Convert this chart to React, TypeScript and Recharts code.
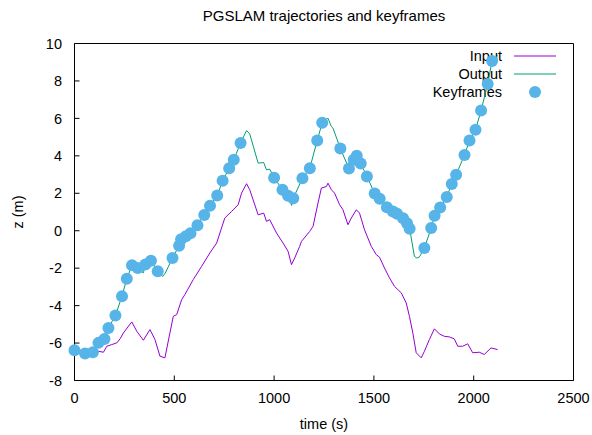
import { ComposedChart, Line, Scatter, XAxis, YAxis, Legend } from 'recharts'

// time (s), z (m)
const inputTrack: [number, number][] = [
  [0, -6.5], [40, -6.6], [70, -6.75], [95, -6.6], [120, -6.44], [145, -6.49], [162, -6.17],
  [187, -6.08], [212, -5.99], [228, -5.78], [245, -5.46], [287, -4.87], [312, -5.37],
  [345, -5.85], [378, -5.28], [403, -5.81], [428, -6.7], [453, -6.79], [478, -5.46],
  [495, -4.57], [512, -4.48], [537, -3.68], [553, -3.41], [595, -2.61], [637, -1.9],
  [678, -1.19], [712, -0.66], [753, 0.68], [787, 1.03], [820, 1.39], [837, 2.01],
  [862, 2.51], [878, 2.19], [920, 0.85], [948, 0.94], [962, 0.5], [978, 0.59],
  [1012, -0.12], [1045, -0.66], [1070, -1.1], [1087, -1.81], [1103, -1.46], [1128, -0.84],
  [1137, -0.57], [1178, -0.04], [1195, 0.23], [1220, 1.48], [1237, 2.28], [1262, 2.36],
  [1270, 2.54], [1287, 2.19], [1303, 2.01], [1328, 1.39], [1345, 1.12], [1370, 0.32],
  [1387, 0.68], [1412, 1.12], [1428, 0.94], [1453, 0.05], [1487, -0.84], [1512, -1.28],
  [1528, -1.41], [1553, -1.99], [1578, -2.52], [1603, -2.97], [1637, -3.32], [1662, -3.86],
  [1678, -4.57], [1695, -5.46], [1712, -6.52], [1737, -6.79], [1753, -6.44], [1778, -5.81],
  [1803, -5.24], [1828, -5.51], [1853, -5.64], [1878, -5.67], [1903, -5.78], [1920, -6.17],
  [1945, -6.17], [1970, -6.04], [1995, -6.52], [2028, -6.49], [2053, -6.61], [2087, -6.26],
  [2120, -6.35],
]

const keyframes: [number, number][] = [
  [0, -6.38], [53, -6.56], [92, -6.49], [120, -5.99], [150, -5.78], [170, -5.19],
  [205, -4.53], [238, -3.5], [262, -2.56], [288, -1.85], [317, -1.99], [355, -1.81],
  [383, -1.6], [417, -2.17], [491, -1.46], [524, -0.8], [534, -0.46], [558, -0.3],
  [581, -0.14], [616, 0.29], [650, 0.84], [679, 1.34], [715, 1.88], [742, 2.67],
  [775, 3.34], [798, 3.79], [832, 4.68], [1000, 2.83], [1042, 2.19], [1070, 1.87],
  [1096, 1.74], [1142, 2.8], [1179, 3.34], [1216, 4.82], [1241, 5.77], [1332, 4.39],
  [1375, 3.32], [1399, 3.79], [1414, 4.0], [1434, 3.59], [1465, 2.9], [1504, 1.99],
  [1529, 1.71], [1565, 1.25], [1595, 1.03], [1616, 0.91], [1646, 0.67], [1666, 0.4],
  [1679, 0.11], [1753, -0.92], [1787, 0.14], [1804, 0.8], [1832, 1.24], [1865, 1.8],
  [1890, 2.5], [1912, 2.99], [1954, 4.05], [1979, 4.82], [2009, 5.39], [2037, 6.42],
  [2070, 7.84], [2092, 9.07],
]

// output samples visible between the keyframe dots
const outputExtra: [number, number][] = [
  [345, -2.25], [442, -2.44], [455, -2.26], [467, -1.99], [862, 5.35], [878, 5.17],
  [920, 3.61], [948, 3.64], [962, 3.25], [978, 3.29], [1088, 1.35], [1270, 6.01],
  [1287, 5.56], [1295, 5.48], [1703, -1.37], [1715, -1.46], [1728, -1.4], [2120, 9.35],
]

const xTicks = [0, 500, 1000, 1500, 2000, 2500]
const zTicks = [-8, -6, -4, -2, 0, 2, 4, 6, 8, 10]
const keyOrder = ['Input', 'Output', 'Keyframes']

const toRows = (pts: [number, number][]) => pts.map(([t, z]) => ({ t, z }))
const inputData = toRows(inputTrack)
const keyframeData = toRows(keyframes)
const outputData = toRows([...keyframes, ...outputExtra].sort((a, b) => a[0] - b[0]))

const FONT = '"Liberation Sans", Arial, sans-serif'
const FS = 14.5
const TICK = 5

const BottomTick = ({ x, y, payload }: any) => (
  <g>
    <line x1={x} x2={x} y1={y} y2={y - TICK} stroke="#000" />
    <text x={x} y={y + 22.5} textAnchor="middle" fontFamily={FONT} fontSize={FS} fill="#000">
      {payload.value}
    </text>
  </g>
)
const TopTick = ({ x, y }: any) => <line x1={x} x2={x} y1={y} y2={y + TICK} stroke="#000" />
const LeftTick = ({ x, y, payload }: any) => (
  <g>
    <line x1={x} x2={x + TICK} y1={y} y2={y} stroke="#000" />
    <text x={x - 12.5} y={y + 5.2} textAnchor="end" fontFamily={FONT} fontSize={FS} fill="#000">
      {payload.value}
    </text>
  </g>
)
const RightTick = ({ x, y }: any) => <line x1={x} x2={x - TICK} y1={y} y2={y} stroke="#000" />

const KeyLegend = ({ payload }: any) => {
  const items = (payload || [])
    .filter((e: any) => keyOrder.includes(e.value))
    .sort((a: any, b: any) => keyOrder.indexOf(a.value) - keyOrder.indexOf(b.value))
  return (
    <div style={{ fontFamily: FONT, fontSize: FS, color: '#000' }}>
      {items.map((e: any) => (
        <div key={e.value} style={{ display: 'flex', height: 18, alignItems: 'center' }}>
          <div style={{ width: 102, textAlign: 'right', lineHeight: '18px' }}>{e.value}</div>
          <svg width={56} height={18}>
            {e.type === 'circle' ? (
              <circle cx={33} cy={9} r={6} fill={e.color} />
            ) : (
              <line x1={12} x2={54} y1={9} y2={9} stroke={e.color} />
            )}
          </svg>
        </div>
      ))}
    </div>
  )
}

export default function App() {
  return (
    <div style={{ position: 'absolute', left: 0, top: 0, width: 592, height: 435 }}>
      <div
        style={{
          position: 'absolute', left: 74.5, width: 499, top: 7, textAlign: 'center',
          fontFamily: FONT, fontSize: 15, lineHeight: '18px', color: '#000',
        }}
      >
        PGSLAM trajectories and keyframes
      </div>
      <ComposedChart width={592} height={435} margin={{ top: 42.5, right: 17.5, bottom: 4.5, left: 0 }}>
        <XAxis
          dataKey="t" type="number" domain={[0, 2500]} ticks={xTicks} interval={0}
          height={50} tickSize={0} tickMargin={0} tickLine={false}
          axisLine={{ stroke: '#000' }} tick={<BottomTick />}
          label={{ value: 'time (s)', position: 'insideBottom', offset: 2, fontFamily: FONT, fontSize: FS, fill: '#000' }}
        />
        <XAxis
          xAxisId="top" orientation="top" dataKey="t" type="number" domain={[0, 2500]}
          ticks={xTicks} interval={0} height={1} tickSize={0} tickMargin={0} tickLine={false}
          axisLine={{ stroke: '#000' }} tick={<TopTick />}
        />
        <YAxis
          type="number" domain={[-8, 10]} ticks={zTicks} interval={0} width={74.5}
          tickSize={0} tickMargin={0} tickLine={false} axisLine={{ stroke: '#000' }} tick={<LeftTick />}
          label={{ value: 'z (m)', angle: -90, position: 'insideLeft', offset: 18, fontFamily: FONT, fontSize: FS, fill: '#000', style: { textAnchor: 'middle' } }}
        />
        <YAxis
          yAxisId="right" orientation="right" type="number" domain={[-8, 10]} ticks={zTicks}
          interval={0} width={1} tickSize={0} tickMargin={0} tickLine={false}
          axisLine={{ stroke: '#000' }} tick={<RightTick />}
        />
        <Legend
          layout="horizontal" verticalAlign="middle" align="center" content={<KeyLegend />}
          wrapperStyle={{ position: 'absolute', left: 400, top: 47, width: 170, height: 54, zIndex: -1 }}
        />
        <Line
          data={inputData} dataKey="z" name="Input" type="linear" stroke="#9400d3"
          strokeWidth={1} dot={false} legendType="line" isAnimationActive={false}
        />
        <Line
          data={outputData} dataKey="z" name="Output" type="linear" stroke="#009e73"
          strokeWidth={1} dot={false} legendType="line" isAnimationActive={false}
        />
        <Scatter
          data={keyframeData} dataKey="z" name="Keyframes" fill="#56b4e9" legendType="circle"
          isAnimationActive={false}
          shape={(p: any) => <circle cx={p.cx} cy={p.cy} r={6} fill="#56b4e9" />}
        />
      </ComposedChart>
    </div>
  )
}
